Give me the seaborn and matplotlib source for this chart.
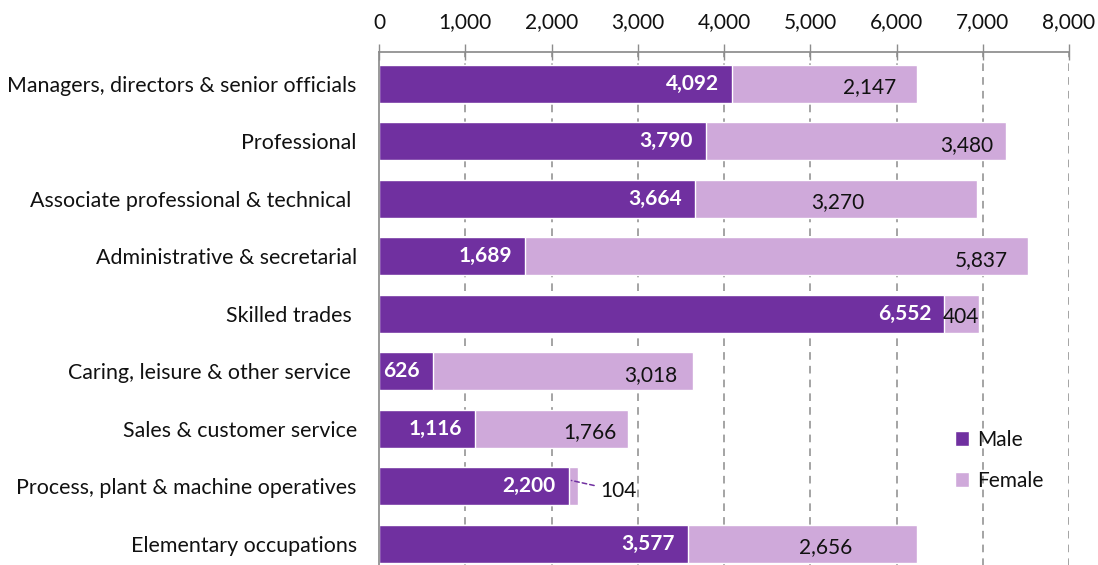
import matplotlib
matplotlib.use("Agg")
import matplotlib.pyplot as plt
import seaborn as sns
import pandas as pd
import numpy as np

categories = [
    "Managers, directors & senior officials",
    "Professional",
    "Associate professional & technical ",
    "Administrative & secretarial",
    "Skilled trades ",
    "Caring, leisure & other service ",
    "Sales & customer service",
    "Process, plant & machine operatives",
    "Elementary occupations",
]
male = [4092, 3790, 3664, 1689, 6552, 626, 1116, 2200, 3577]
female = [2147, 3480, 3270, 5837, 404, 3018, 1766, 104, 2656]
xticks = [0, 1000, 2000, 3000, 4000, 5000, 6000, 7000, 8000]

MALE_C = "#7030A0"
FEMALE_C = "#CFA9DA"
AXIS_C = "#8C8C8C"
FS = 15

sns.set_theme(style="white")
plt.rcParams["font.family"] = ["Lato", "DejaVu Sans"]

df = pd.DataFrame({"cat": categories, "Male": male, "Female": female})
df["Total"] = df["Male"] + df["Female"]

fig = plt.figure(figsize=(10.98, 5.65), dpi=100)
ax = fig.add_axes([379 / 1098, 1 - 572.5 / 565, 690 / 1098, 520.5 / 565])

sns.barplot(data=df, y="cat", x="Total", color=FEMALE_C, orient="h",
            width=0.66, ax=ax, saturation=1, label="Female", zorder=3)
sns.barplot(data=df, y="cat", x="Male", color=MALE_C, orient="h",
            width=0.66, ax=ax, saturation=1, label="Male", zorder=3)

ax.set_xlim(0, 8000)
ax.set_ylim(8.5, -0.55)
ax.set_xlabel("")
ax.set_ylabel("")

# x axis on top
ax.xaxis.tick_top()
ax.set_xticks(xticks)
ax.set_xticklabels([f"{v:,}" for v in xticks], fontsize=FS, color="#111111")
ax.tick_params(axis="x", which="major", direction="inout", length=12, width=1,
               color=AXIS_C, pad=8)

# y axis: labels without ticks, boundary ticks as minor
ax.set_yticks(range(len(categories)))
ax.set_yticklabels(categories, fontsize=15.4, color="#111111")
ax.tick_params(axis="y", which="major", length=0, pad=16)
ax.set_yticks(np.arange(-0.5, len(categories) + 0.5, 1), minor=True)
ax.tick_params(axis="y", which="minor", direction="out", length=5, width=1,
               color=AXIS_C)

for s in ["right", "bottom"]:
    ax.spines[s].set_visible(False)
ax.spines["top"].set_color(AXIS_C)
ax.spines["left"].set_color(AXIS_C)
ax.spines["top"].set_zorder(5)
ax.spines["left"].set_zorder(5)

# dashed vertical gridlines
for v in xticks[1:]:
    ax.axvline(v, color="#8C8C8C", linestyle=(0, (5, 4)), linewidth=1.1, zorder=1)

# male labels: inside end, bold white
for i, m in enumerate(male):
    ax.text(m - 150, i, f"{m:,}", ha="right", va="center", color="white",
            fontsize=FS, fontweight="bold", zorder=6)

# female labels (positions adjusted as in the reference)
female_label_x = [5693, 6817, 5322, 6980, 6748, 3154, 2446, None, 5183]
for i, (m, f) in enumerate(zip(male, female)):
    if female_label_x[i] is None:
        continue
    ax.text(female_label_x[i], i + 0.06, f"{f:,}", ha="center", va="center",
            color="#111111", fontsize=FS, zorder=6)

# small segment with leader line
i = 7
ax.annotate(f"{female[i]:,}", xy=(male[i] + female[i] * 0.3, i - 0.1),
            xytext=(male[i] + female[i] + 260, i + 0.08),
            ha="left", va="center", fontsize=FS, color="#111111",
            arrowprops=dict(arrowstyle="-", color=MALE_C, linestyle=(0, (3, 2)),
                            linewidth=1.1, shrinkA=2, shrinkB=0), zorder=6)

# legend
handles, labels = ax.get_legend_handles_labels()
order = [labels.index("Male"), labels.index("Female")]
leg = ax.legend([handles[k] for k in order], [labels[k] for k in order],
                loc="upper left", bbox_to_anchor=(0.822, 0.29), frameon=False,
                fontsize=FS, handlelength=0.7, handleheight=0.7,
                handletextpad=0.4, labelspacing=1.0, borderaxespad=0)
for t in leg.get_texts():
    t.set_color("#111111")

fig.savefig("out.png", dpi=100)
